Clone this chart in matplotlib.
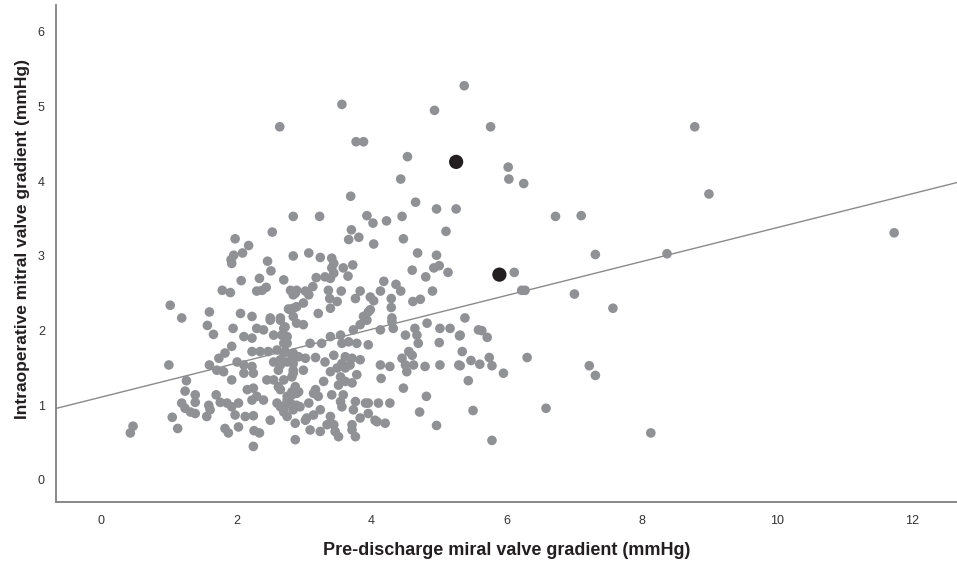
import matplotlib
matplotlib.use("Agg")
import matplotlib.pyplot as plt
import numpy as np

plt.rcParams['font.family'] = ['Liberation Sans', 'DejaVu Sans']

# Pre-discharge gradient (x) and intraoperative gradient (y)
pre_discharge = [
    5.37, 3.56, 4.93, 2.64, 5.76, 3.77, 3.88, 4.53, 6.02, 4.43, 6.03, 6.25, 3.69, 4.65, 4.96, 5.25,
    2.84, 3.23, 3.93, 4.22, 4.45, 8.78, 8.99, 6.72, 7.10, 7.31, 8.37, 11.73, 6.11, 6.22, 6.27, 7.00,
    7.57, 6.30, 5.95, 7.22, 7.31, 6.58, 8.13, 5.78, 5.50,
    4.02, 3.70, 3.66, 3.81, 4.03, 4.47, 5.10, 2.84, 3.07, 3.24, 3.41, 3.44, 3.41, 3.58, 3.72, 3.31,
    3.44, 3.39, 3.65, 3.18, 2.70, 4.68, 4.96, 4.60, 4.92, 5.00, 5.13, 4.80, 4.18, 4.36, 4.43, 3.13,
    2.80, 2.89, 3.02, 3.07, 2.84, 3.36, 3.55, 3.83, 4.13, 3.38, 3.49, 3.76, 3.98, 4.03, 4.29, 4.29,
    4.61, 4.72, 4.90, 2.84, 2.77, 2.99, 3.21, 3.39, 3.95, 3.88, 4.30, 5.38,
    2.53, 1.98, 2.18, 1.96, 2.09, 1.92, 1.93, 2.46, 2.51, 2.34, 2.07, 1.79, 1.91, 2.30, 2.38, 2.44,
    2.87, 1.02, 1.60, 1.19, 2.06, 2.23, 2.50, 2.65, 2.80, 2.89,
    1.57, 1.66, 1.95, 2.11, 2.23, 2.30, 2.40, 2.50, 2.65, 2.72, 2.55, 2.67, 2.75, 2.84, 2.89,
    1.00, 1.60, 1.74, 1.83, 1.93, 1.71, 1.81, 2.01, 2.11, 2.23, 2.25, 2.11,
    2.23, 2.35, 2.47, 2.60, 2.70, 2.82, 2.55, 2.65, 2.75, 2.84, 2.62,
    1.93, 1.26, 1.24, 1.39, 1.39, 1.19, 1.24, 1.32, 1.39, 1.05, 1.13, 0.43, 0.47,
    1.70, 1.59, 1.61, 1.56, 1.76, 1.86, 1.93, 2.03, 1.98, 2.13, 2.25,
    2.16, 2.25, 2.30, 2.40, 2.23, 2.45, 2.55, 2.62, 2.82, 2.89, 2.75, 2.80, 2.89, 2.60, 2.70,
    2.50, 1.83, 1.88, 2.03, 2.26, 2.34, 2.25, 2.87, 2.87, 2.84, 2.82,
    2.99, 2.70, 2.75, 2.70, 2.72, 2.65, 2.84, 2.92, 3.02, 3.17, 3.09, 3.26, 3.39, 3.31, 3.44, 3.54,
    3.56, 3.66, 3.61, 3.71, 3.83, 3.78, 3.95, 3.73, 3.83, 3.93, 3.98,
    4.13, 4.30, 4.32, 4.50, 4.64, 4.67, 4.82, 5.01, 5.16, 5.58, 5.30, 5.00, 4.69, 5.34,
    4.55, 4.45, 4.60, 4.50, 4.52, 4.62, 4.79, 5.01, 5.29, 5.47, 5.60, 4.13, 4.27, 4.14,
    5.43, 4.47, 4.81, 4.71, 4.96,
    2.84, 2.99, 2.70, 2.87, 2.92, 2.82, 2.75, 2.65, 2.72, 2.84, 2.94, 3.07, 3.17, 3.29, 3.21, 3.14,
    3.39, 3.49, 3.54, 3.51, 3.61, 3.71, 3.78, 3.68, 3.61, 3.56,
    3.41, 3.54, 3.56, 3.58, 3.76, 3.73, 3.83, 3.95, 3.95, 4.10, 4.27, 3.91,
    3.24, 3.14, 3.04, 3.02, 3.09, 3.24, 3.34, 3.39, 3.44, 3.46, 3.51, 3.71, 3.71, 3.76, 4.05, 4.08,
    4.20, 2.65, 2.70, 2.75,
    5.31, 5.63, 5.71, 5.74, 5.78, 5.31,
]
intraoperative = [
    5.28, 5.03, 4.95, 4.73, 4.73, 4.53, 4.53, 4.33, 4.19, 4.03, 4.03, 3.97, 3.80, 3.72, 3.63, 3.63,
    3.53, 3.53, 3.54, 3.47, 3.53, 4.73, 3.83, 3.53, 3.54, 3.02, 3.03, 3.31, 2.78, 2.54, 2.54, 2.49,
    2.30, 1.64, 1.43, 1.53, 1.40, 0.96, 0.63, 0.53, 0.93,
    3.44, 3.35, 3.22, 3.25, 3.16, 3.23, 3.33, 3.00, 3.04, 2.98, 2.97, 2.90, 2.84, 2.84, 2.88, 2.72,
    2.77, 2.70, 2.73, 2.71, 2.68, 3.04, 3.01, 2.81, 2.84, 2.87, 2.78, 2.72, 2.66, 2.62, 2.53, 2.59,
    2.54, 2.54, 2.53, 2.48, 2.48, 2.54, 2.53, 2.53, 2.53, 2.43, 2.39, 2.43, 2.45, 2.40, 2.43, 2.31,
    2.39, 2.42, 2.53, 2.30, 2.29, 2.37, 2.23, 2.30, 2.25, 2.19, 2.17, 2.17,
    3.32, 3.23, 3.14, 3.01, 3.04, 2.95, 2.90, 2.93, 2.80, 2.70, 2.67, 2.54, 2.51, 2.53, 2.54, 2.58,
    2.50, 2.34, 2.25, 2.17, 2.23, 2.19, 2.17, 2.17, 2.28, 2.32,
    2.07, 1.95, 2.03, 1.92, 1.90, 2.03, 2.01, 2.14, 2.14, 2.05, 1.94, 1.94, 1.83, 2.19, 2.10,
    1.54, 1.54, 1.63, 1.70, 1.79, 1.47, 1.45, 1.58, 1.54, 1.52, 1.43, 1.43,
    1.72, 1.72, 1.72, 1.74, 1.70, 1.67, 1.58, 1.54, 1.58, 1.56, 1.47,
    1.34, 1.33, 1.19, 1.14, 1.04, 1.03, 0.96, 0.91, 0.89, 0.84, 0.69, 0.63, 0.72,
    1.14, 1.00, 0.94, 0.85, 1.04, 1.03, 0.98, 1.03, 0.87, 0.85, 0.86,
    1.21, 1.23, 1.12, 1.07, 1.07, 1.34, 1.34, 1.25, 1.18, 1.16, 1.12, 1.03, 1.00, 1.03, 0.94,
    0.80, 0.69, 0.63, 0.71, 0.66, 0.63, 0.45, 0.76, 0.54, 1.47, 1.38,
    2.08, 2.03, 1.92, 1.83, 1.72, 1.61, 1.70, 1.65, 1.63, 1.64, 1.83, 1.83, 1.92, 1.58, 1.67, 1.94,
    1.83, 1.85, 1.65, 1.63, 1.61, 1.83, 1.81, 2.01, 2.08, 2.14, 2.28,
    2.01, 2.12, 2.03, 1.94, 2.03, 1.94, 2.10, 2.03, 2.03, 2.01, 1.93, 1.84, 1.83, 1.72,
    1.72, 1.63, 1.67, 1.54, 1.45, 1.54, 1.52, 1.54, 1.54, 1.60, 1.55, 1.54, 1.52, 1.36,
    1.33, 1.23, 1.12, 0.91, 0.73,
    1.43, 1.47, 1.34, 1.25, 1.18, 1.14, 1.07, 1.21, 1.00, 0.94, 0.98, 1.03, 1.21, 1.32, 1.12, 1.16,
    1.45, 1.50, 1.38, 1.27, 1.32, 1.30, 1.41, 1.54, 1.50, 1.56,
    1.14, 1.05, 0.98, 1.14, 1.05, 0.94, 0.83, 1.03, 0.89, 1.03, 1.03, 1.03,
    0.94, 0.87, 0.83, 0.80, 0.67, 0.65, 0.74, 0.85, 0.74, 0.65, 0.58, 0.74, 0.67, 0.58, 0.80, 0.78,
    0.76, 0.98, 0.91, 0.85,
    1.94, 2.00, 1.91, 1.64, 1.53, 1.53,
]

# Highlighted cases (black)
highlight_x = [5.25, 5.89]
highlight_y = [4.26, 2.75]

# Fit line
fit_intercept = 1.11
fit_slope = 0.227

x_ticks = [0, 2, 4, 6, 8, 10, 12]
y_ticks = [0, 1, 2, 3, 4, 5, 6]

fig = plt.figure(figsize=(9.57, 5.65), dpi=100)
ax = fig.add_axes([0.0585, 0.1115, 0.9415, 0.8795])

ax.scatter(pre_discharge, intraoperative, s=48, color='#909195', edgecolors='none', zorder=3)
ax.scatter(highlight_x, highlight_y, s=105, color='#231f20', edgecolors='none', zorder=4)

xmin, xmax = -0.67, 12.66
xl = np.array([xmin, xmax])
ax.plot(xl, fit_intercept + fit_slope * xl, color='#8a8a8a', lw=1.0, zorder=2)

ax.set_xlim(xmin, xmax)
ax.set_ylim(-0.295, 6.36)
ax.set_xticks(x_ticks)
ax.set_yticks(y_ticks)
ax.tick_params(axis='both', length=0, labelsize=9, colors='#333333')
ax.tick_params(axis='x', pad=9)
ax.tick_params(axis='y', pad=8)

for side in ['top', 'right']:
    ax.spines[side].set_visible(False)
for side in ['left', 'bottom']:
    ax.spines[side].set_color('#7f7f7f')
    ax.spines[side].set_linewidth(1.3)

ax.set_xlabel('Pre-discharge miral valve gradient (mmHg)', fontsize=13, fontweight='bold',
              color='#231f20', labelpad=11)
ax.set_ylabel('Intraoperative mitral valve gradient (mmHg)', fontsize=12.5, fontweight='bold',
              color='#231f20')
ax.yaxis.set_label_coords(-0.029, 0.53)

fig.savefig('out.png', dpi=100)
